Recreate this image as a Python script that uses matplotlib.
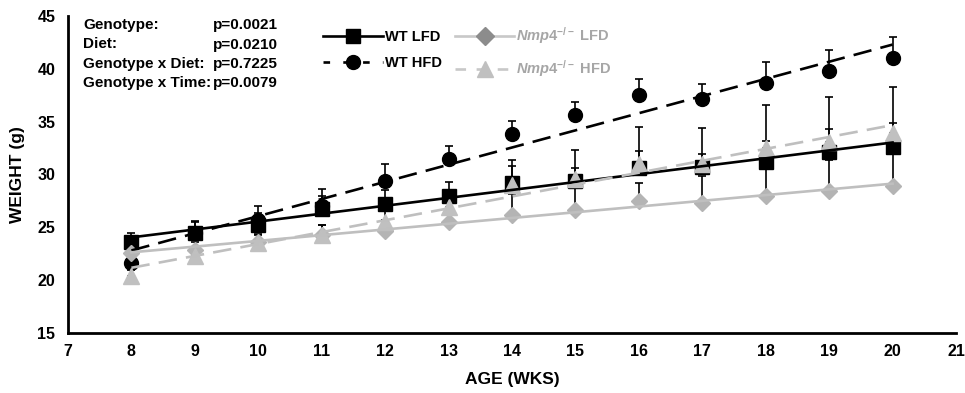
import numpy as np
import matplotlib
matplotlib.use('Agg')
import matplotlib.pyplot as plt
from matplotlib.lines import Line2D

plt.rcParams['font.family'] = ['Liberation Sans', 'DejaVu Sans']
plt.rcParams['font.weight'] = 'bold'
plt.rcParams['mathtext.fontset'] = 'custom'
plt.rcParams['mathtext.it'] = 'Liberation Sans:italic:bold'
plt.rcParams['mathtext.rm'] = 'Liberation Sans:bold'

# data
weeks = [8, 9, 10, 11, 12, 13, 14, 15, 16, 17, 18, 19, 20]
wt_lfd = [23.6, 24.5, 25.2, 26.7, 27.2, 28.0, 29.2, 29.4, 30.6, 30.7, 31.2, 32.1, 32.6]
wt_lfd_err = [0.9, 1.1, 1.2, 1.3, 1.3, 1.3, 1.6, 1.2, 1.6, 1.2, 2.0, 2.2, 2.3]
wt_hfd = [21.6, 24.5, 25.7, 27.0, 29.4, 31.5, 33.8, 35.6, 37.5, 37.1, 38.7, 39.8, 41.0]
wt_hfd_err = [0.9, 1.0, 1.3, 1.6, 1.6, 1.2, 1.3, 1.3, 1.5, 1.5, 1.9, 2.0, 2.0]
ko_lfd = [22.6, 22.9, 23.6, 24.3, 24.7, 25.5, 26.2, 26.6, 27.5, 27.3, 28.0, 28.4, 28.9]
ko_lfd_err = [0.6, 0.7, 0.8, 0.9, 1.0, 1.0, 2.0, 2.2, 1.7, 2.6, 2.8, 3.0, 3.4]
ko_hfd = [20.4, 22.3, 23.5, 24.3, 25.5, 26.9, 29.0, 29.6, 31.0, 31.0, 32.5, 33.1, 33.9]
ko_hfd_err = [0.6, 0.7, 0.8, 0.9, 1.0, 1.5, 2.4, 2.7, 3.5, 3.4, 4.1, 4.2, 4.4]

stat_names = ['Genotype:', 'Diet:', 'Genotype x Diet:', 'Genotype x Time:']
stat_vals = ['p=0.0021', 'p=0.0210', 'p=0.7225', 'p=0.0079']

fig = plt.figure(figsize=(9.65, 3.93), dpi=100)
ax = fig.add_axes([68/965, 1-333/393, (956-68)/965, (333-16)/393])

x = np.array(weeks)
series = [
    (wt_lfd, wt_lfd_err, 's', 10, 'black', 'black', '-'),
    (wt_hfd, wt_hfd_err, 'o', 10, 'black', 'black', (0, (7, 3.5))),
    (ko_lfd, ko_lfd_err, 'D', 8, '#b4b4b4', '#bfbfbf', '-'),
    (ko_hfd, ko_hfd_err, '^', 11, '#c0c0c0', '#bfbfbf', (0, (7, 3.5))),
]
for y, err, mk, ms, mc, lc, ls in series:
    y = np.array(y)
    err = np.array(err)
    # upward-only error bars
    ax.errorbar(x, y, yerr=[np.zeros_like(err), err], fmt='none',
                ecolor='black', elinewidth=1.2, capsize=3, capthick=1.2, zorder=2)
    ax.plot(x, y, linestyle='none', marker=mk, markersize=ms, color=mc, zorder=3)
    # linear trendline
    k, b = np.polyfit(x, y, 1)
    ax.plot([x[0], x[-1]], [k*x[0]+b, k*x[-1]+b], color=lc, linestyle=ls,
            linewidth=1.9, zorder=4)

ax.set_xlim(7, 21)
ax.set_ylim(15, 45)
ax.set_xticks(range(7, 22))
ax.set_yticks(range(15, 46, 5))
ax.tick_params(length=0, labelsize=11.5)
ax.tick_params(axis='y', pad=9)
ax.tick_params(axis='x', pad=8)
for s in ['top', 'right']:
    ax.spines[s].set_visible(False)
for s in ['left', 'bottom']:
    ax.spines[s].set_linewidth(2.0)
ax.set_xlabel('AGE (WKS)', fontsize=12.5, fontweight='bold', labelpad=9)
ax.set_ylabel('WEIGHT (g)', fontsize=12.5, fontweight='bold', labelpad=9)

# stats block
for i, (n, v) in enumerate(zip(stat_names, stat_vals)):
    yy = 1 - (25 + 19.5*i)/393
    fig.text(83/965, yy, n, fontsize=11, fontweight='bold', va='center')
    fig.text(213/965, yy, v, fontsize=11, fontweight='bold', va='center')

handles = [
    Line2D([], [], color='black', lw=1.9, marker='s', markersize=10),
    Line2D([], [], color='black', lw=1.9, ls=(0, (2.5, 5)), marker='o', markersize=10),
    Line2D([], [], color='#c8c8c8', lw=1.9, marker='D', markersize=9, markerfacecolor='#8c8c8c', markeredgecolor='#8c8c8c'),
    Line2D([], [], color='#c8c8c8', lw=1.9, ls=(0, (4, 4)), marker='^', markersize=12, markerfacecolor='#c0c0c0', markeredgecolor='#c0c0c0'),
]
labels = ['WT LFD', 'WT HFD', r'$\mathit{Nmp4}^{\mathrm{-/-}}$ LFD', r'$\mathit{Nmp4}^{\mathrm{-/-}}$ HFD']
leg = fig.legend(handles, labels, ncol=2, loc='upper left',
                 bbox_to_anchor=(316/965, 1-18/393), frameon=False,
                 fontsize=10.5, handlelength=4.1, handletextpad=0.1,
                 columnspacing=0.9, labelspacing=0.85, borderpad=0)
for t, c in zip(leg.get_texts(), ['black', 'black', '#a6a6a6', '#a6a6a6']):
    t.set_color(c)
    t.set_fontweight('bold')

fig.savefig('out.png', dpi=100)
